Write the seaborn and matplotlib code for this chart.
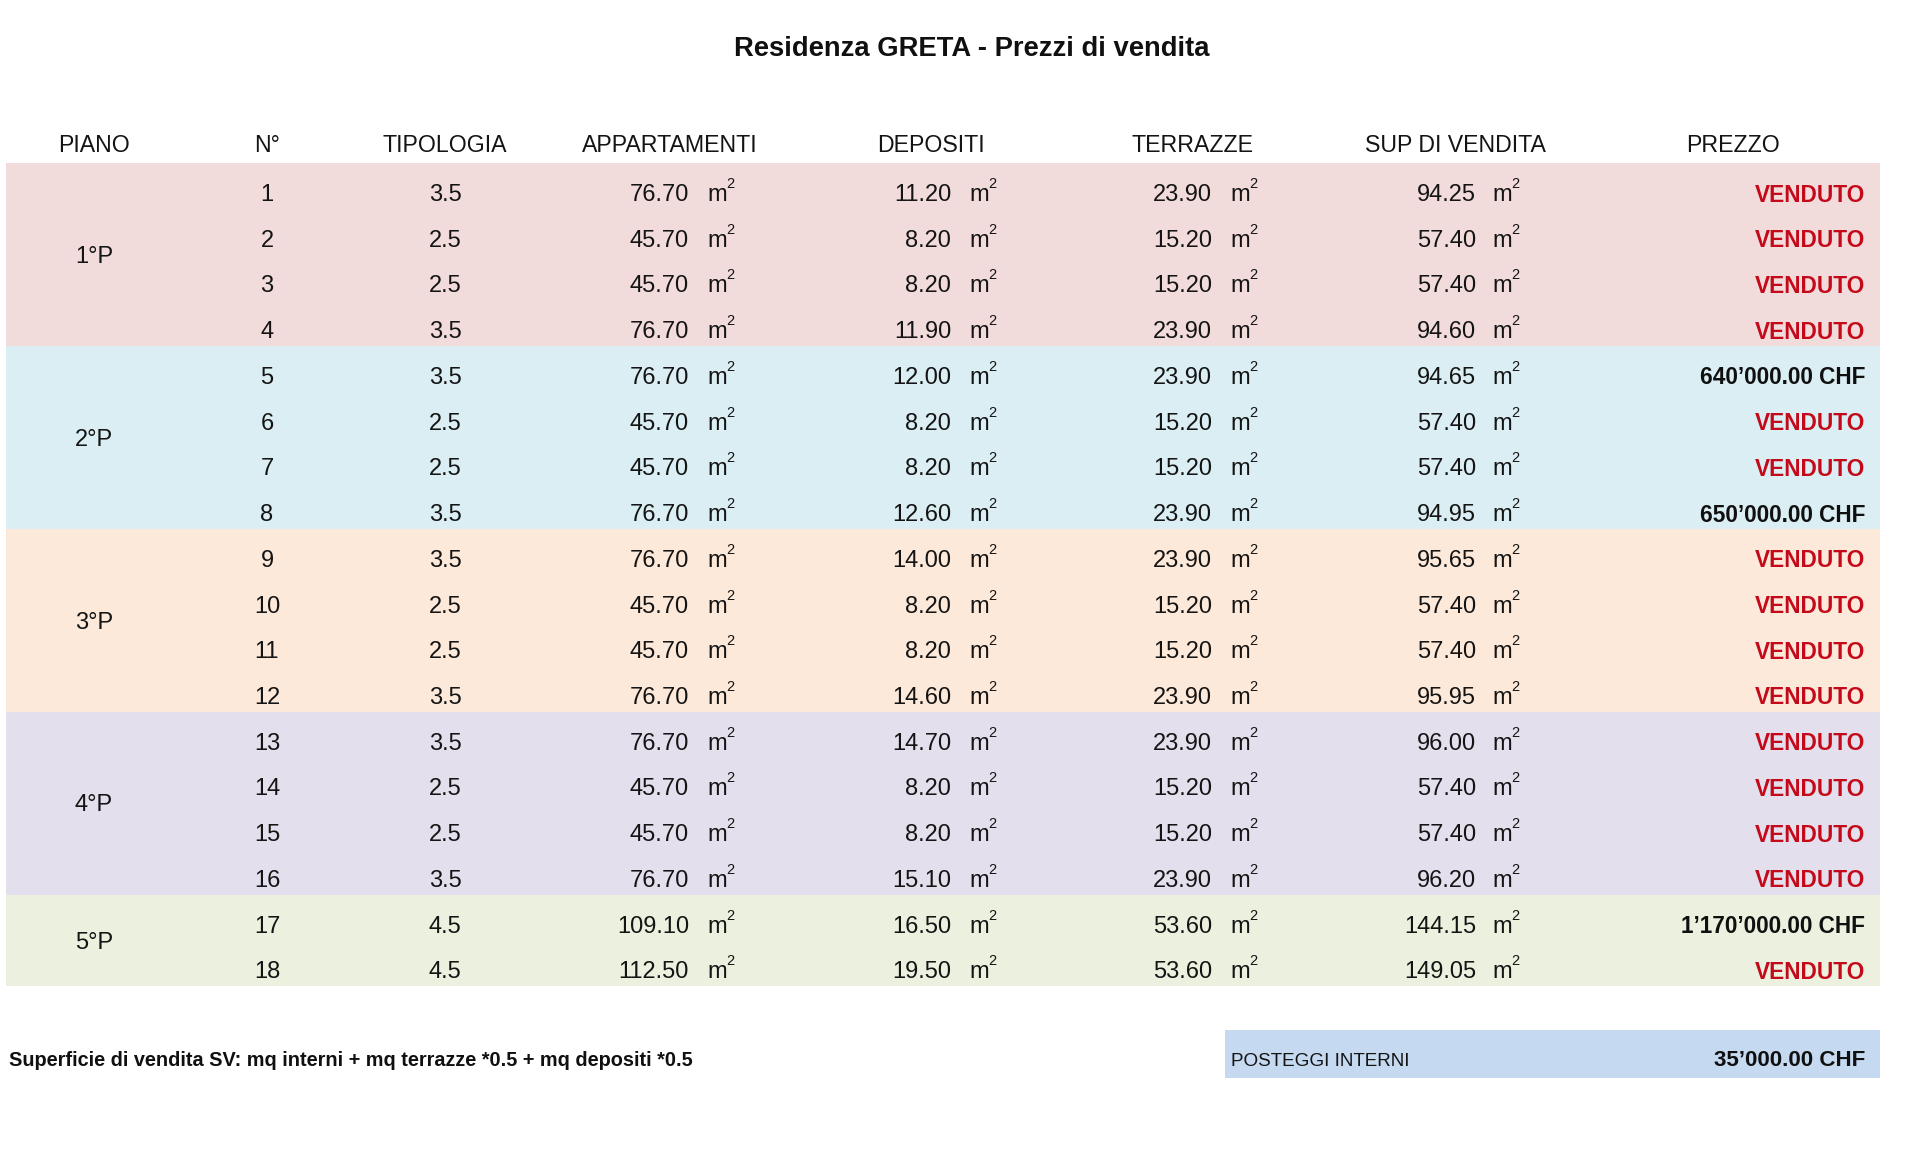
import matplotlib
matplotlib.use("Agg")
import matplotlib.pyplot as plt
import matplotlib.transforms as mtransforms
from matplotlib import font_manager
from matplotlib.colors import ListedColormap
import numpy as np
import seaborn as sns

# --- data -------------------------------------------------------------
piani = ["1°P", "2°P", "3°P", "4°P", "5°P"]
piano_idx = [0, 0, 0, 0, 1, 1, 1, 1, 2, 2, 2, 2, 3, 3, 3, 3, 4, 4]
numero = [1, 2, 3, 4, 5, 6, 7, 8, 9, 10, 11, 12, 13, 14, 15, 16, 17, 18]
tipologia = [3.5, 2.5, 2.5, 3.5, 3.5, 2.5, 2.5, 3.5, 3.5, 2.5, 2.5, 3.5,
             3.5, 2.5, 2.5, 3.5, 4.5, 4.5]
appartamenti = [76.70, 45.70, 45.70, 76.70, 76.70, 45.70, 45.70, 76.70,
                76.70, 45.70, 45.70, 76.70, 76.70, 45.70, 45.70, 76.70,
                109.10, 112.50]
depositi = [11.20, 8.20, 8.20, 11.90, 12.00, 8.20, 8.20, 12.60, 14.00,
            8.20, 8.20, 14.60, 14.70, 8.20, 8.20, 15.10, 16.50, 19.50]
terrazze = [23.90, 15.20, 15.20, 23.90, 23.90, 15.20, 15.20, 23.90,
            23.90, 15.20, 15.20, 23.90, 23.90, 15.20, 15.20, 23.90,
            53.60, 53.60]
sup_vendita = [94.25, 57.40, 57.40, 94.60, 94.65, 57.40, 57.40, 94.95,
               95.65, 57.40, 57.40, 95.95, 96.00, 57.40, 57.40, 96.20,
               144.15, 149.05]
prezzo = ["VENDUTO", "VENDUTO", "VENDUTO", "VENDUTO", "640’000.00 CHF",
          "VENDUTO", "VENDUTO", "650’000.00 CHF", "VENDUTO", "VENDUTO",
          "VENDUTO", "VENDUTO", "VENDUTO", "VENDUTO", "VENDUTO", "VENDUTO",
          "1’170’000.00 CHF", "VENDUTO"]
intestazioni = ["PIANO", "N°", "TIPOLOGIA", "APPARTAMENTI", "DEPOSITI",
                "TERRAZZE", "SUP DI VENDITA", "PREZZO"]
posteggi_label = "POSTEGGI INTERNI"
posteggi_prezzo = "35’000.00 CHF"
nota = "Superficie di vendita SV: mq interni + mq terrazze *0.5 + mq depositi *0.5"
titolo = "Residenza GRETA - Prezzi di vendita"

band_colors = ["#f2dcdb", "#daeef3", "#fde9d9", "#e4dfec", "#ebf1de"]
red = "#c40a1a"
ink = "#141414"

# --- fonts --------------------------------------------------------------
sns.set_theme(style="white")
names = {f.name for f in font_manager.fontManager.ttflist}
if "Liberation Sans Narrow" in names:
    FONT, fs = "Liberation Sans Narrow", 19.5
else:
    FONT, fs = "Liberation Sans", 17
plt.rcParams["font.family"] = [FONT, "DejaVu Sans"]

W, H = 1920, 1165
fig = plt.figure(figsize=(W / 100, H / 100), dpi=100)
fig.patch.set_facecolor("white")


def fx(px):
    return px / W


def fy(py):
    return 1 - py / H


# --- coloured bands (one heatmap cell per row) ---------------------------
left, right, top, bottom = 6, 1880, 163, 986
ax = fig.add_axes([fx(left), fy(bottom), fx(right - left), (bottom - top) / H])
sns.heatmap(np.array(piano_idx).reshape(-1, 1), ax=ax, cmap=ListedColormap(band_colors),
            vmin=-0.5, vmax=4.5, cbar=False, xticklabels=False, yticklabels=False,
            linewidths=0)
ax.set_xlabel("")
ax.set_ylabel("")

tr = mtransforms.blended_transform_factory(fig.transFigure, ax.transData)
sup_tr = mtransforms.offset_copy(tr, fig=fig, x=19, y=11, units="dots")

# column layout (pixel x positions)
x_piano, x_num, x_tip = 94, 267, 445
val_cols = [(appartamenti, 689, 707), (depositi, 951, 969),
            (terrazze, 1212, 1230), (sup_vendita, 1476, 1492)]
x_prezzo = 1865
hdr_x = [94, 267, 445, 670, 931, 1193, 1455, 1733]

for h, x in zip(intestazioni, hdr_x):
    fig.text(fx(x), fy(145), h, ha="center", va="center", fontsize=fs * 0.98, color=ink)

for i in range(len(numero)):
    y = i + 0.7
    ax.text(fx(x_num), y, str(numero[i]), transform=tr, ha="center", va="center",
            fontsize=fs, color=ink)
    ax.text(fx(x_tip), y, f"{tipologia[i]:.1f}", transform=tr, ha="center",
            va="center", fontsize=fs, color=ink)
    for vals, xr, xm in val_cols:
        ax.text(fx(xr), y, f"{vals[i]:.2f}", transform=tr, ha="right", va="center",
                fontsize=fs, color=ink)
        ax.text(fx(xm), y, "m", transform=tr, ha="left", va="center",
                fontsize=fs, color=ink)
        ax.text(fx(xm), y, "2", transform=sup_tr, ha="left", va="center",
                fontsize=fs * 0.62, color=ink)
    sold = prezzo[i] == "VENDUTO"
    ax.text(fx(x_prezzo), y, prezzo[i], transform=tr, ha="right", va="center",
            fontsize=fs * 0.96, fontweight="bold", color=red if sold else "#101010")

# floor labels centred on their band
for k, p in enumerate(piani):
    rows = [i for i, v in enumerate(piano_idx) if v == k]
    yc = (rows[0] + rows[-1] + 1) / 2 + 0.05
    ax.text(fx(x_piano), yc, p, transform=tr, ha="center", va="center",
            fontsize=fs, color=ink)

# --- title --------------------------------------------------------------
fig.text(fx(972), fy(49), titolo, ha="center", va="center", fontsize=fs * 1.16,
         fontweight="bold", color="#101010")

# --- footer -------------------------------------------------------------
fig.text(fx(9), fy(1061), nota, ha="left", va="center", fontsize=fs * 0.84,
         fontweight="bold", color="#101010")

ax2 = fig.add_axes([fx(1225), fy(1078), fx(1880 - 1225), (1078 - 1030) / H])
sns.heatmap([[0]], ax=ax2, cmap=ListedColormap(["#c5d9f1"]), cbar=False,
            xticklabels=False, yticklabels=False)
ax2.set_xlabel("")
ax2.set_ylabel("")
fig.text(fx(1231), fy(1061), posteggi_label, ha="left", va="center",
         fontsize=fs * 0.8, color=ink)
fig.text(fx(1865), fy(1061), posteggi_prezzo, ha="right", va="center",
         fontsize=fs * 0.95, fontweight="bold", color="#101010")

fig.savefig("out.png", dpi=100, facecolor="white")
